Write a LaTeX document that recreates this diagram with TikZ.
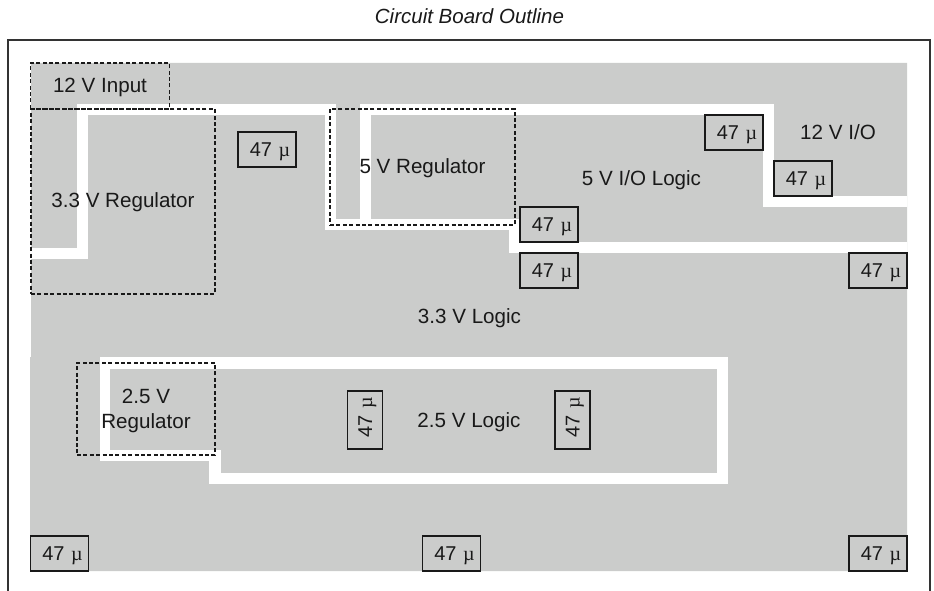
\documentclass[tikz,border=0pt]{standalone}
\usepackage{fontspec}
\setmainfont{Liberation Sans}
\newfontfamily\muserif{Liberation Serif}
\definecolor{board}{HTML}{CBCCCB}
\definecolor{outlinegray}{HTML}{333333}
\newcommand{\capval}{\hspace*{6pt}47\hspace{6.5pt}{\muserif µ}}
\tikzset{
  px/.style={x=1pt,y=-1pt},
  trace/.style={fill=white,draw=none},
  boardfont/.style={font=\fontsize{20.6}{25}\selectfont,text=black!90},
  lbl/.style={boardfont,inner sep=0pt,text height=14.7pt,text depth=0pt},
  capbox/.style={draw=black!90,line width=1.2pt,inner sep=0pt,minimum width=58pt,minimum height=35pt,font=\fontsize{20}{25}\selectfont,text=black!90,text height=14.3pt,text depth=0pt},
  capvert/.style={capbox,rotate=90},
  region/.style={draw=black!90,line width=1.2pt,dash pattern=on 4pt off 2.4pt,inner sep=0pt,boardfont,align=center},
  regionone/.style={region,text height=12.8pt,text depth=0pt},
}
\begin{document}
\begin{tikzpicture}[px]
\useasboundingbox (0,0) rectangle (934,591);
% outline, open at the bottom of the page
\coordinate (olb) at (8,591);
\coordinate (olt) at (8,40);
\coordinate (ort) at (930,40);
\coordinate (orb) at (930,591);
\draw[outlinegray,line width=1.1pt] (olb) -- (olt) -- (ort) -- (orb);
\node[font=\itshape\fontsize{20.5}{24}\selectfont,text=black!90,inner sep=0pt] (title) at (469.5,16) {Circuit Board Outline};
% board copper
\fill[board] (31,63) -- (907,63) -- (907,571) -- (30,571) -- (30,357) -- (31,357) -- cycle;
% white gaps
\fill[trace] (31,248) rectangle (88,259);
\fill[trace] (77,104) rectangle (88,259);
\fill[trace] (77,104) rectangle (336,115);
\fill[trace] (325,104) rectangle (336,230);
\fill[trace] (325,219) rectangle (520,230);
\fill[trace] (360,104) rectangle (774,115);
\fill[trace] (360,104) rectangle (371,219);
\fill[trace] (509,219) rectangle (520,253);
\fill[trace] (509,242) rectangle (907,253);
\fill[trace] (763,104) rectangle (774,207);
\fill[trace] (763,196) rectangle (907,207);
\fill[trace] (100,357) rectangle (728,369);
\fill[trace] (100,357) rectangle (110,461);
\fill[trace] (100,450) rectangle (221,461);
\fill[trace] (209,450) rectangle (221,484);
\fill[trace] (209,473) rectangle (728,484);
\fill[trace] (717,357) rectangle (728,484);
% dashed regions
\node[regionone,minimum width=138.5pt,minimum height=46pt] (input) at (100,86) {12 V Input};
\node[regionone,minimum width=184pt,minimum height=185pt] (reg33) at (123,201.5) {3.3 V Regulator};
\node[regionone,minimum width=185pt,minimum height=116pt] (reg5) at (422.5,167) {5 V Regulator};
\node[region,minimum width=138pt,minimum height=92pt] (reg25) at (146,409) {\rule{0pt}{19pt}2.5 V\\Regulator};
% labels
\node[lbl] (l5io) at (641.5,178) {5 V I/O Logic};
\node[lbl] (l12io) at (838,132) {12 V I/O};
\node[lbl] (l33) at (469.5,316) {3.3 V Logic};
\node[lbl] (l25) at (469,420) {2.5 V Logic};
% capacitors
\node[capbox] (c1) at (267,149.5) {\capval};
\node[capbox] (c2) at (549,224.5) {\capval};
\node[capbox] (c3) at (549,270.5) {\capval};
\node[capbox] (c4) at (734,132.5) {\capval};
\node[capbox] (c5) at (803,178.5) {\capval};
\node[capbox] (c6) at (878,270.5) {\capval};
\node[capvert] (c7) at (365,420) {\capval};
\node[capvert] (c8) at (572.5,420) {\capval};
\node[capbox] (c9) at (59.5,553.5) {\capval};
\node[capbox] (c10) at (451.5,553.5) {\capval};
\node[capbox] (c11) at (878,553.5) {\capval};
\end{tikzpicture}
\end{document}
